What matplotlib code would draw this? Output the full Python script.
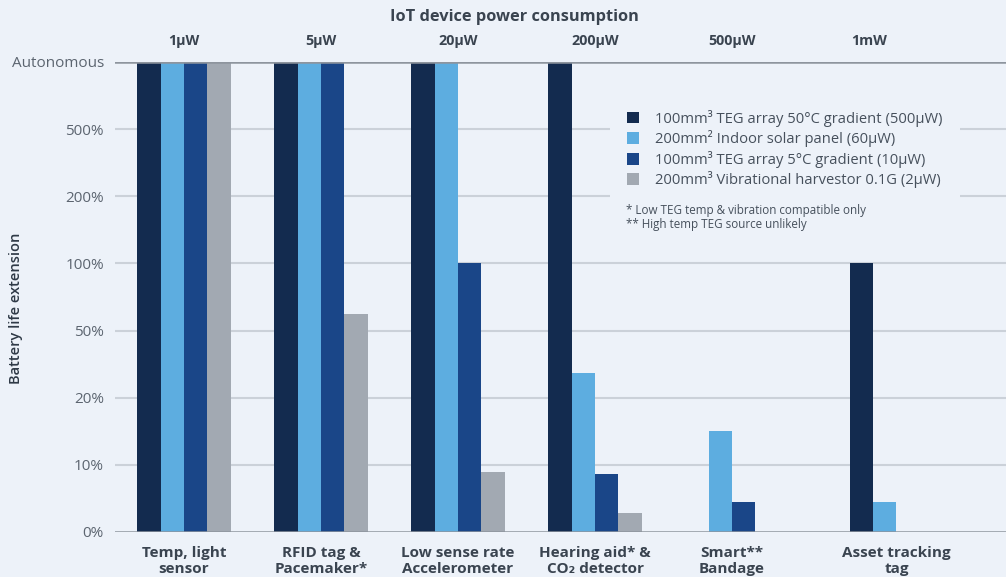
import numpy as np
import matplotlib.pyplot as plt
from matplotlib.patches import Rectangle

plt.rcParams['font.family'] = ['Open Sans', 'DejaVu Sans']

# battery life extension per device class, in percent; AUTO = runs autonomously
AUTO = 1000
devices = ['Temp, light\nsensor', 'RFID tag &\nPacemaker*', 'Low sense rate\nAccelerometer',
           'Hearing aid* &\nCO₂ detector', 'Smart**\nBandage', 'Asset tracking\ntag']
power = ['1μW', '5μW', '20μW', '200μW', '500μW', '1mW']

teg_50c = [AUTO, AUTO, AUTO, AUTO, np.nan, 100]
solar = [AUTO, AUTO, AUTO, 31, 15, 4.5]
teg_5c = [AUTO, AUTO, 100, 8.6, 4.4, np.nan]
vibration = [AUTO, 62.5, 8.9, 2.8, np.nan, np.nan]

series_labels = ['100mm³ TEG array 50°C gradient (500μW)',
                 '200mm² Indoor solar panel (60μW)',
                 '100mm³ TEG array 5°C gradient (10μW)',
                 '200mm³ Vibrational harvestor 0.1G (2μW)']
notes = ['* Low TEG temp & vibration compatible only',
         '** High temp TEG source unlikely']

tick_vals = [0, 10, 20, 50, 100, 200, 500, AUTO]
tick_labels = ['0%', '10%', '20%', '50%', '100%', '200%', '500%', 'Autonomous']

bg = '#EDF2F9'
colors = ['#132B4F', '#5DADE0', '#1A4688', '#A2A9B2']
grid_c = '#CBD1D9'
axis_c = '#8E959E'
txt_c = '#5C6570'
dark_c = '#3A4450'

# evenly spaced, piecewise-linear value axis
steps = np.arange(len(tick_vals))
def fwd(v):
    return np.interp(v, tick_vals, steps)
def inv(p):
    return np.interp(p, steps, tick_vals)

fig = plt.figure(figsize=(10.06, 5.77), dpi=100, facecolor=bg)
ax = fig.add_axes([0.1143, 0.078, 0.8857, 0.8147])
ax.set_facecolor(bg)
ax.set_yscale('function', functions=(fwd, inv))
ax.set_ylim(0, AUTO)
ax.set_xlim(-0.504, 6.0)

for v in tick_vals[1:-1]:
    ax.axhline(v, color=grid_c, lw=1.5, zorder=0)
ax.axhline(0, color=axis_c, lw=1.8, zorder=3)
ax.axhline(AUTO, color=axis_c, lw=1.8, zorder=3)

gx = np.array([0, 1, 2, 3, 4, 5.2])
w = 0.17
for i, (vals, c, lab) in enumerate(zip([teg_50c, solar, teg_5c, vibration], colors, series_labels)):
    ax.bar(gx + (i - 1.5) * w, vals, w, color=c, label=lab, zorder=2)

for s in ax.spines.values():
    s.set_visible(False)

ax.set_yticks(tick_vals, tick_labels)
ax.tick_params(axis='y', length=0, pad=8, labelsize=11, labelcolor=txt_c)
ax.set_xticks(gx, devices)
ax.tick_params(axis='x', length=0, pad=10, labelsize=11, labelcolor=dark_c)
for t in ax.get_xticklabels():
    t.set_fontweight('bold')
    t.set_linespacing(1.2)
fig.text(0.016, 0.465, 'Battery life extension', rotation=90, ha='center', va='center',
         fontsize=10.5, fontweight='semibold', color='#2E3946')

top = ax.secondary_xaxis('top')
top.set_xticks(np.arange(len(power)), power)
top.tick_params(length=0, pad=10, labelsize=10.3, labelcolor=dark_c)
for t in top.get_xticklabels():
    t.set_fontweight('bold')
for s in top.spines.values():
    s.set_visible(False)
fig.text(0.511, 0.97, 'IoT device power consumption', ha='center', va='center',
         fontsize=11.8, fontweight='bold', color='#3A4450')

# legend panel hides the grid behind it
ax.add_patch(Rectangle((0.556, 0.632), 0.392, 0.287, transform=ax.transAxes,
                       facecolor=bg, edgecolor='none', zorder=1))
leg = ax.legend(loc='upper left', bbox_to_anchor=(0.566, 0.914), frameon=False,
                fontsize=10.6, handlelength=0.85, handleheight=0.85, handletextpad=1.05,
                labelspacing=0.24, borderpad=0)
for t in leg.get_texts():
    t.set_color('#46505C')
ax.text(0.574, 0.697, '\n'.join(notes), transform=ax.transAxes, fontsize=8.4,
        color='#46505C', va='top', linespacing=1.05, zorder=4)

fig.savefig('out.png', dpi=100, facecolor=bg)
